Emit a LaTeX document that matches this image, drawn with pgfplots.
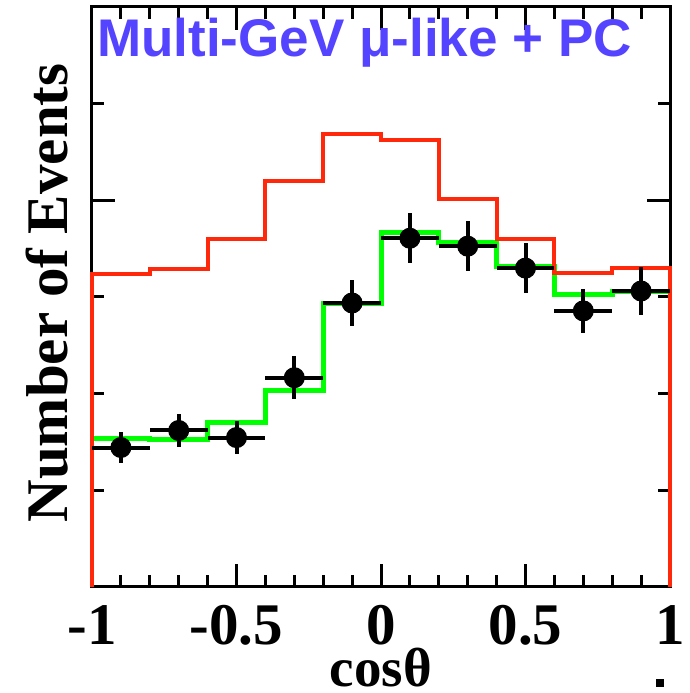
\documentclass[border=0pt]{standalone}
\usepackage{fontspec}
\setmainfont{Liberation Serif}
\newfontfamily\titlefont{Liberation Sans}
\usepackage{pgfplots}
\usepackage{pgfplotstable}
\pgfplotsset{compat=1.18}
\definecolor{histred}{RGB}{255,40,10}
\definecolor{histgreen}{RGB}{0,255,0}
\definecolor{titleblue}{RGB}{85,68,255}

% no-oscillation MC: right edge of bin, value (const plot mark right)
\pgfplotstableread{
x y
-1 0
-0.8 3.237
-0.6 3.289
-0.4 3.598
-0.2 4.196
0 4.691
0.2 4.619
0.4 4.010
0.6 3.598
0.8 3.247
1 3.299
1 0
}\redhist
% oscillated MC: left edge of bin, value (const plot mark left)
\pgfplotstableread{
x y
-1 1.536
-0.8 1.526
-0.6 1.701
-0.4 2.031
-0.2 2.928
0 3.670
0.2 3.567
0.4 3.320
0.6 3.031
0.8 3.062
1 3.062
}\greenhist
% data
\pgfplotstableread{
x y ex ey
-0.9 1.443 0.1 0.165
-0.7 1.619 0.1 0.175
-0.5 1.546 0.1 0.170
-0.3 2.165 0.1 0.220
-0.1 2.938 0.1 0.240
0.1 3.608 0.1 0.260
0.3 3.526 0.1 0.260
0.5 3.299 0.1 0.260
0.7 2.856 0.1 0.230
0.9 3.062 0.1 0.245
}\datapts

\begin{document}
\begin{tikzpicture}
\begin{axis}[name=ax, scale only axis, width=578pt, height=580pt,
  xmin=-1, xmax=1, ymin=0, ymax=6,
  axis line style={line width=3pt},
  xtick={-1,-0.5,0,0.5,1}, xticklabels={-1,-0.5,0,0.5,1},
  minor x tick num=4,
  ytick={4}, yticklabels={}, minor ytick={1,2,3,5},
  tick align=inside, major tick length=23pt, minor tick length=12pt,
  tick style={line width=3pt, black},
  xticklabel style={font=\fontsize{59}{60}\selectfont\bfseries, yshift=-15pt},
  clip=false,
]
\addplot[histgreen, line width=5pt, const plot mark left] table[x=x,y=y] {\greenhist};
\addplot[histred, line width=4pt, const plot mark right] table[x=x,y=y] {\redhist};
\addplot[black, only marks, mark=*, mark size=10pt, mark options={line width=1pt},
  error bars/.cd, x dir=both, x explicit, y dir=both, y explicit,
  error mark=none, error bar style={line width=4pt, black}]
  table[x=x, y=y, x error=ex, y error=ey] {\datapts};
\end{axis}
\node[anchor=base west, inner sep=0pt, text=titleblue, font=\titlefont\bfseries\fontsize{53}{55}\selectfont]
  at ([xshift=5pt,yshift=-50pt]ax.north west) {Multi-GeV μ-like + PC};
\node[rotate=90, anchor=base, inner sep=0pt, font=\bfseries\fontsize{59}{60}\selectfont]
  at ([xshift=-25pt,yshift=4pt]ax.west) {Number of Events};
\node[anchor=base, inner sep=0pt, font=\bfseries\fontsize{55}{56}\selectfont]
  at ([yshift=-99pt]ax.south) {cosθ};
\fill ([xshift=-14pt,yshift=-100pt]ax.south east) rectangle +(8pt,8pt);
\pgfresetboundingbox
\path ([xshift=-92pt,yshift=-106pt]ax.south west) rectangle ([xshift=19pt,yshift=7pt]ax.north east);
\end{tikzpicture}
\end{document}
